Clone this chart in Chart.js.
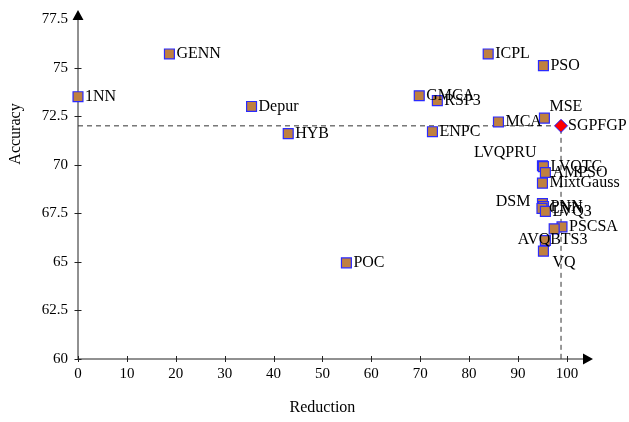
<!DOCTYPE html>
<html>
<head>
<meta charset="utf-8">
<script src="https://cdn.jsdelivr.net/npm/chart.js@4"></script>
<style>
  body { margin: 0; background: #fff; }
  #wrap { width: 629px; height: 422px; }
</style>
</head>
<body>
<div id="wrap"><canvas id="myChart"></canvas></div>
<script>
// 데이터 (Reduction , Accuracy)
const names     = ['1NN','GENN','Depur','HYB','POC','GMCA','RSP3','ENPC','ICPL','MCA','PSO','MSE',
                   'LVQPRU','LVQTC','AMPSO','MixtGauss','DSM','PNN','CNN','LVQ3','PSCSA','BTS3','AVQ','VQ'];
const reduction = [0, 18.7, 35.5, 43.0, 54.9, 69.8, 73.5, 72.5, 83.9, 86.0, 95.2, 95.4,
                   95.0, 95.2, 95.6, 95.0, 95.0, 95.2, 94.9, 95.6, 99.0, 97.4, 95.6, 95.2];
const accuracy  = [73.5, 75.7, 73.0, 71.6, 64.95, 73.55, 73.3, 71.7, 75.7, 72.2, 75.1, 72.4,
                   69.95, 69.9, 69.6, 69.05, 68.0, 67.85, 67.75, 67.6, 66.8, 66.7, 66.1, 65.55];

// 제안 방법 (빨간 다이아몬드)
const bestName = 'SGPFGP';
const bestReduction = 98.8;
const bestAccuracy = 72.0;

// 눈금
const xTicks = [0,10,20,30,40,50,60,70,80,90,100];
const yTicks = [60,62.5,65,67.5,70,72.5,75,77.5];

// 라벨 위치 (e: 오른쪽, w: 왼쪽, wc: 왼쪽(겹침), ne/nw: 위, se/s: 아래)
const labelPos = ['e','e','e','e','e','e','e','e','e','e','e','ne',
                  'nw','e','e','e','w','e','e','e','e','s','wc','se'];

const FONT = '"Liberation Serif", "Times New Roman", serif';

const points = reduction.map((x,i)=>({ x : x , y : accuracy[i] }));

// 축 + 화살표 + 눈금 그리기
const axisPlugin = {
  id : 'axisPlugin',
  beforeDatasetsDraw(chart){
    const c = chart.ctx, a = chart.chartArea;
    const xs = chart.scales.x, ys = chart.scales.y;
    c.save();
    c.strokeStyle = '#222'; c.fillStyle = '#000'; c.lineWidth = 1;
    c.beginPath();
    c.moveTo(a.left, a.bottom); c.lineTo(a.right, a.bottom);
    c.moveTo(a.left, a.bottom); c.lineTo(a.left, a.top);
    xTicks.forEach(v=>{ let p = Math.round(xs.getPixelForValue(v))+0.5; c.moveTo(p, a.bottom-3); c.lineTo(p, a.bottom+3); });
    yTicks.forEach(v=>{ let p = Math.round(ys.getPixelForValue(v))+0.5; c.moveTo(a.left-3.5, p); c.lineTo(a.left+3.5, p); });
    c.stroke();
    // 화살표
    c.beginPath();
    c.moveTo(a.right+9, a.bottom); c.lineTo(a.right-1, a.bottom-5.5); c.lineTo(a.right-1, a.bottom+5.5); c.closePath();
    c.moveTo(a.left, a.top-9); c.lineTo(a.left-5.5, a.top+1); c.lineTo(a.left+5.5, a.top+1); c.closePath();
    c.fill();
    // 축 제목
    c.font = '16px ' + FONT;
    c.textAlign = 'center'; c.textBaseline = 'middle';
    c.fillText('Reduction', xs.getPixelForValue(50), 408);
    c.translate(16, 134); c.rotate(-Math.PI/2);
    c.fillText('Accuracy', 0, 0);
    c.restore();
  },
  afterDatasetsDraw(chart){
    const c = chart.ctx;
    c.save();
    c.font = '16px ' + FONT; c.fillStyle = '#000'; c.textBaseline = 'middle';
    const meta = chart.getDatasetMeta(1);
    meta.data.forEach((el,i)=>{
      let pos = labelPos[i], x = el.x, y = el.y;
      if(pos == 'e'){ c.textAlign = 'left'; c.fillText(names[i], x+7, y); }
      else if(pos == 'w'){ c.textAlign = 'right'; c.fillText(names[i], x-12, y-2); }
      else if(pos == 'wc'){ c.textAlign = 'right'; c.fillText(names[i], x+5, y-1); }
      else if(pos == 'ne'){ c.textAlign = 'left'; c.fillText(names[i], x+5, y-11); }
      else if(pos == 'nw'){ c.textAlign = 'right'; c.fillText(names[i], x-6, y-13); }
      else if(pos == 'se'){ c.textAlign = 'left'; c.fillText(names[i], x+9, y+12); }
      else if(pos == 's'){ c.textAlign = 'left'; c.fillText(names[i], x-4, y+11); }
    });
    const best = chart.getDatasetMeta(0).data[0];
    c.textAlign = 'left';
    c.fillText(bestName, best.x+7, best.y);
    c.restore();
  }
};

const ctx = document.getElementById('myChart');

new Chart(ctx, {
  type : 'scatter',
  data : {
    datasets : [
      { // 제안 방법
        data : [{ x : bestReduction , y : bestAccuracy }],
        pointStyle : 'rectRot', pointRadius : 6.5,
        backgroundColor : '#ff0000', borderColor : '#2020ff', borderWidth : 1,
        order : 0, clip : false
      },
      { // 비교 방법들
        data : points,
        pointStyle : 'rect', pointRadius : 7,
        backgroundColor : '#bf8040', borderColor : '#2a2aff', borderWidth : 1.2,
        order : 1, clip : false
      },
      { // 기준 점선
        data : [{ x : 0 , y : bestAccuracy }, { x : bestReduction , y : bestAccuracy }, { x : bestReduction , y : 60 }],
        showLine : true, pointRadius : 0,
        borderColor : '#333', borderWidth : 1, borderDash : [5,4],
        order : 2
      }
    ]
  },
  options : {
    responsive : true, maintainAspectRatio : false, animation : false,
    layout : { padding : { top : 16, right : 45, left : 0, bottom : 0 } },
    plugins : { legend : { display : false }, tooltip : { enabled : false } },
    scales : {
      x : {
        type : 'linear', min : 0, max : 103.5,
        grid : { display : false, drawTicks : false }, border : { display : false },
        ticks : { stepSize : 10, includeBounds : false, padding : 6, color : '#000', font : { family : FONT, size : 15 } },
        afterBuildTicks : (s)=>{ s.ticks = xTicks.map(v=>({ value : v })); },
        afterFit : (s)=>{ s.height = 63; }
      },
      y : {
        type : 'linear', min : 60, max : 77.5,
        grid : { display : false, drawTicks : false }, border : { display : false },
        ticks : { stepSize : 2.5, padding : 10, color : '#000', font : { family : FONT, size : 15 },
                  callback : (v)=> v.toString() },
        afterBuildTicks : (s)=>{ s.ticks = yTicks.map(v=>({ value : v })); },
        afterFit : (s)=>{ s.width = 78; }
      }
    }
  },
  plugins : [axisPlugin]
});
</script>
</body>
</html>
